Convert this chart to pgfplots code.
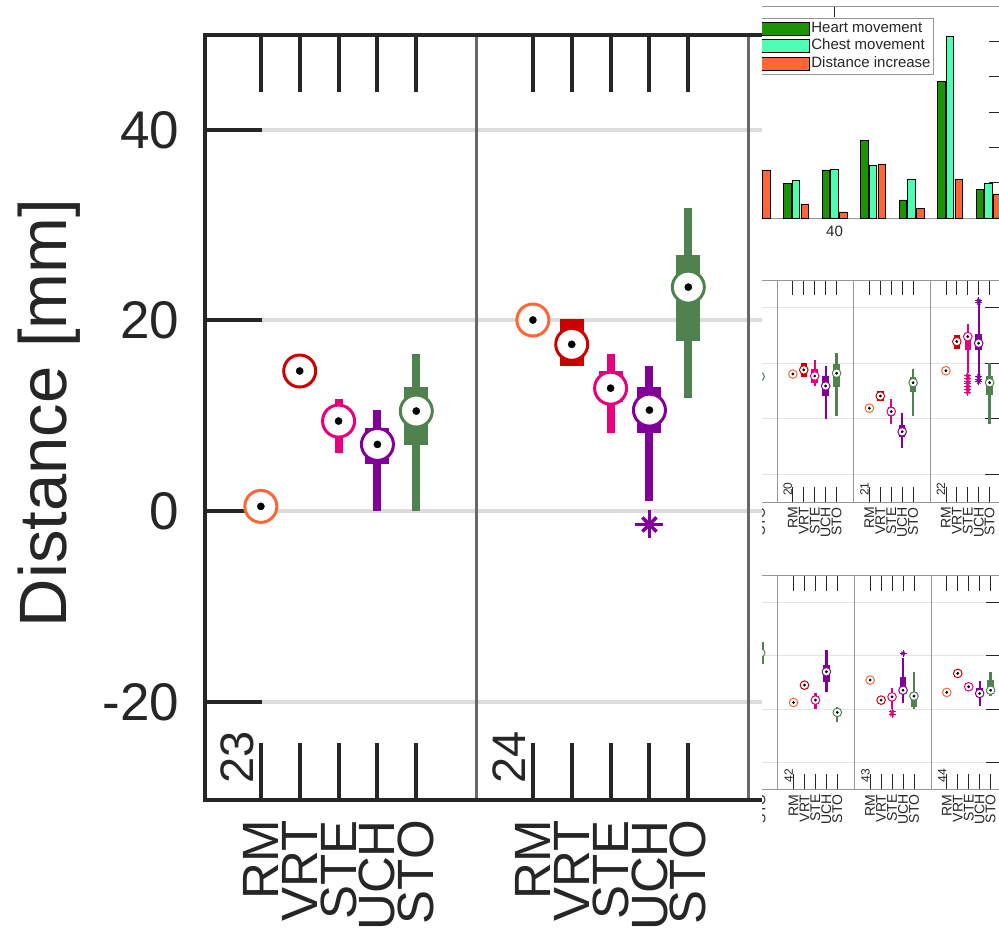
\documentclass[border=0pt]{standalone}
\usepackage{pgfplots}
\pgfplotsset{compat=1.18}
\usepackage{fontspec}
\setmainfont{Liberation Sans}
\definecolor{cRM}{RGB}{255,102,51}
\definecolor{cVRT}{RGB}{204,0,0}
\definecolor{cSTE}{RGB}{230,0,126}
\definecolor{cUCH}{RGB}{128,0,153}
\definecolor{cSTO}{RGB}{79,130,79}
\definecolor{frame}{RGB}{38,38,38}
\definecolor{sepg}{RGB}{105,105,105}
\definecolor{gridg}{RGB}{220,220,220}
\definecolor{igray}{RGB}{150,150,150}
\definecolor{bGreen}{RGB}{26,148,0}
\definecolor{bCyan}{RGB}{77,255,179}
\definecolor{bOrange}{RGB}{255,102,51}

\def\wW{8pt}\def\bW{24pt}\def\mR{16pt}\def\mL{3pt}\def\dR{3.6pt}
\def\oS{14pt}\def\oX{10pt}\def\oL{3.5pt}

% x, low whisker, q1, median, q3, high whisker, colour
\newcommand\cat[7]{%
  \addplot[#7, line width=\wW, forget plot] coordinates {(#1,#2) (#1,#6)};
  \addplot[#7, line width=\bW, forget plot] coordinates {(#1,#3) (#1,#5)};
  \addplot[only marks, mark=*, mark size=\mR, mark options={fill=white, draw=#7, line width=\mL}, forget plot] coordinates {(#1,#4)};
  \addplot[only marks, mark=*, mark size=\dR, black, forget plot] coordinates {(#1,#4)};
}
\newcommand\outl[2]{%
  \addplot[only marks, mark=+, mark size=\oS, mark options={line width=\oL}, color=#1, forget plot] coordinates {#2};
  \addplot[only marks, mark=x, mark size=\oX, mark options={line width=\oL}, color=#1, forget plot] coordinates {#2};
}
\pgfplotsset{
  mylegend/.style={legend image code/.code={\draw[##1] (0pt,-6.5pt) rectangle (48pt,6.5pt);}},
  insetrow/.style={
    anchor=south west, scale only axis,
    xmin=0, xmax=27.4, ymin=-30, ymax=50, clip=false,
    axis line style={draw=igray, line width=0.8pt},
    tick align=inside, major tick length=15pt, tick style={draw=frame, line width=0.8pt},
    xtick={1.45,2.45,3.45,4.45,5.45,8.45,9.45,10.45,11.45,12.45,15.45,16.45,17.45,18.45,19.45,22.45,23.45,24.45,25.45,26.45},
    xticklabels={RM,VRT,STE,UCH,STO,RM,VRT,STE,UCH,STO,RM,VRT,STE,UCH,STO,RM,VRT,STE,UCH,STO},
    xtick pos=both, xticklabel pos=left,
    ytick={-20,0,20,40}, yticklabels={}, ytick pos=right, yticklabel pos=left,
    ymajorgrids, grid style={line width=1.2pt, draw=gridg!80},
    xticklabel style={rotate=90, anchor=east, inner sep=0pt, font=\fontsize{14}{14}\selectfont, text=frame},
    xticklabel shift=5pt,
  }
}

\begin{document}
\begin{tikzpicture}
% ---------------- main axis ----------------
\begin{axis}[
  at={(204.5pt,134pt)}, anchor=south west,
  scale only axis, width=816.06pt, height=765pt,
  xmin=0, xmax=21, ymin=-30.3, ymax=49.95,
  clip=false,
  axis line style={line width=4pt, draw=frame},
  tick align=inside, major tick length=57pt,
  tick style={line width=4pt, draw=frame},
  xtick={1.45,2.45,3.45,4.45,5.45,8.45,9.45,10.45,11.45,12.45},
  xticklabels={RM,VRT,STE,UCH,STO,RM,VRT,STE,UCH,STO},
  xtick pos=both, xticklabel pos=left,
  ytick={-20,0,20,40}, yticklabels={-20,0,20,40},
  ytick pos=left,
  ymajorgrids, grid style={line width=4pt, draw=gridg},
  xticklabel style={rotate=90, anchor=east, inner sep=0pt, font=\fontsize{51}{51}\selectfont, text=frame},
  xticklabel shift=20pt,
  yticklabel style={anchor=east, inner sep=0pt, font=\fontsize{53}{53}\selectfont, text=frame},
  yticklabel shift=25pt,
]
\draw[sepg, line width=3pt] (axis cs:7,-30.1) -- (axis cs:7,49.75);
\draw[sepg, line width=3pt] (axis cs:14,-30.1) -- (axis cs:14,49.75);
\node[rotate=90, anchor=base west, inner sep=0pt, font=\fontsize{47}{47}\selectfont, text=frame] at (axis cs:1.27,-28.6) {23};
\node[rotate=90, anchor=base west, inner sep=0pt, font=\fontsize{47}{47}\selectfont, text=frame] at (axis cs:8.27,-28.6) {24};
% panel 23
\cat{1.45}{0.5}{0.5}{0.5}{0.5}{0.5}{cRM}
\cat{2.45}{14.7}{14.7}{14.7}{14.7}{14.7}{cVRT}
\cat{3.45}{6.1}{8.3}{9.45}{10.6}{11.8}{cSTE}
\cat{4.45}{0}{4.9}{7.0}{8.75}{10.6}{cUCH}
\cat{5.45}{0}{6.93}{10.5}{13.06}{16.45}{cSTO}
% panel 24
\cat{8.45}{20.05}{20.05}{20.05}{20.05}{20.05}{cRM}
\cat{9.45}{15.2}{15.2}{17.5}{20.2}{20.2}{cVRT}
\cat{10.45}{8.2}{11.4}{12.9}{14.7}{16.45}{cSTE}
\cat{11.45}{1.05}{8.2}{10.6}{13.06}{15.2}{cUCH}
\outl{cUCH}{(11.45,-1.4)}
\cat{12.45}{11.9}{17.8}{23.5}{26.85}{31.85}{cSTO}
\end{axis}
\node[rotate=90, anchor=base, inner sep=0pt, font=\fontsize{67}{67}\selectfont, text=frame] at (66pt,521pt) {Distance [mm]};

% ---------------- inset (cut-out of a larger figure) ----------------
\fill[white] (762pt,-5pt) rectangle (1040pt,940pt);
\begin{scope}
\clip (762pt,0pt) rectangle (999pt,934pt);
\def\wW{2.3pt}\def\bW{6.5pt}\def\mR{4.3pt}\def\mL{1pt}\def\dR{1.2pt}
\def\oS{3.5pt}\def\oX{2.5pt}\def\oL{0.9pt}
% bar chart
\begin{axis}[
  at={(719pt,716pt)}, anchor=south west, scale only axis,
  width=281.05pt, height=212pt,
  xmin=37, xmax=44.3, ymin=0, ymax=6, clip=false,
  ybar=1.2pt, bar width=7.5pt,
  axis line style={draw=igray, line width=0.8pt},
  tick align=inside, major tick length=11pt, tick style={draw=frame, line width=0.8pt},
  xtick={30,40,50}, xticklabels={30,40,50}, xtick pos=both, xticklabel pos=left,
  ytick={1,2,3,4,5}, yticklabels={}, ytick pos=right, yticklabel pos=left,
  xticklabel style={font=\fontsize{15}{15}\selectfont, text=frame, inner sep=0pt},
  xticklabel shift=8pt,
  legend style={at={(axis cs:42.584,5.66)}, anchor=north east, draw=igray, line width=0.8pt,
    font=\fontsize{15}{15}\selectfont, text=frame, inner sep=1.5pt, row sep=0pt,
    nodes={inner sep=1.5pt, text height=11pt, text depth=3.5pt}},
  legend cell align=left,
]
\addplot[fill=bGreen, draw=black, line width=0.6pt, mylegend] coordinates {(39,0.99)(40,1.36)(41,2.2)(42,0.51)(43,3.87)(44,0.82)};
\addplot[fill=bCyan, draw=black, line width=0.6pt, mylegend] coordinates {(39,1.07)(40,1.38)(41,1.50)(42,1.10)(43,5.14)(44,0.99)};
\addplot[fill=bOrange, draw=black, line width=0.6pt, mylegend] coordinates {(38,1.36)(39,0.40)(40,0.17)(41,1.53)(42,0.28)(43,1.10)(44,0.68)};
\legend{Heart movement, Chest movement, Distance increase}
\end{axis}
% middle row: panels 19-22
\begin{axis}[insetrow, at={(700.5pt,432pt)}, width=299.5pt, height=222pt]
\draw[igray, line width=0.8pt] (axis cs:7,-30) -- (axis cs:7,50);
\draw[igray, line width=0.8pt] (axis cs:14,-30) -- (axis cs:14,50);
\draw[igray, line width=0.8pt] (axis cs:21,-30) -- (axis cs:21,50);
\node[rotate=90, anchor=base west, inner sep=0pt, font=\fontsize{12}{12}\selectfont, text=frame] at (axis cs:8.37,-27.8) {20};
\node[rotate=90, anchor=base west, inner sep=0pt, font=\fontsize{12}{12}\selectfont, text=frame] at (axis cs:15.37,-27.8) {21};
\node[rotate=90, anchor=base west, inner sep=0pt, font=\fontsize{12}{12}\selectfont, text=frame] at (axis cs:22.37,-27.8) {22};
\cat{5.45}{15.2}{15.2}{15.2}{15.2}{15.2}{cSTO}
\cat{8.45}{16.1}{16.1}{16.1}{16.1}{16.1}{cRM}
\cat{9.45}{15.2}{15.2}{17.6}{20.2}{20.2}{cVRT}
\cat{10.45}{11.8}{13.0}{15.4}{17.8}{21.2}{cSTE}
\cat{11.45}{-0.1}{8.2}{11.8}{15.4}{19.0}{cUCH}
\cat{12.45}{1.1}{11.6}{16.4}{19.7}{23.6}{cSTO}
\cat{15.45}{3.8}{3.8}{3.8}{3.8}{3.8}{cRM}
\cat{16.45}{6.3}{6.3}{8.2}{10.1}{10.1}{cVRT}
\cat{17.45}{-2.0}{1.0}{2.6}{4.1}{7.0}{cSTE}
\cat{18.45}{-10.4}{-6.5}{-4.7}{-2.3}{2.2}{cUCH}
\cat{19.45}{1.1}{9.5}{13.0}{15.2}{17.8}{cSTO}
\cat{22.45}{17.3}{17.3}{17.3}{17.3}{17.3}{cRM}
\cat{23.45}{25.0}{25.0}{27.8}{30.2}{30.2}{cVRT}
\cat{24.45}{16.4}{24.8}{29.6}{30.8}{34.1}{cSTE}
\outl{cSTE}{(24.45,15.6)(24.45,14.6)(24.45,13.6)(24.45,12.6)(24.45,11.6)(24.45,10.6)(24.45,9.6)}
\cat{25.45}{15.8}{24.8}{27.2}{30.5}{41.6}{cUCH}
\outl{cUCH}{(25.45,42.6)(25.45,41.8)(25.45,15.3)(25.45,14.3)(25.45,13.3)}
\cat{26.45}{-2.0}{8.6}{13.0}{15.4}{20.0}{cSTO}
\end{axis}
% bottom row: panels 41-44
\begin{axis}[insetrow, at={(701pt,144.7pt)}, width=300pt, height=213.6pt]
\draw[igray, line width=0.8pt] (axis cs:7,-30) -- (axis cs:7,50);
\draw[igray, line width=0.8pt] (axis cs:14,-30) -- (axis cs:14,50);
\draw[igray, line width=0.8pt] (axis cs:21,-30) -- (axis cs:21,50);
\node[rotate=90, anchor=base west, inner sep=0pt, font=\fontsize{12}{12}\selectfont, text=frame] at (axis cs:8.4,-27.4) {42};
\node[rotate=90, anchor=base west, inner sep=0pt, font=\fontsize{12}{12}\selectfont, text=frame] at (axis cs:15.4,-27.4) {43};
\node[rotate=90, anchor=base west, inner sep=0pt, font=\fontsize{12}{12}\selectfont, text=frame] at (axis cs:22.4,-27.4) {44};
\cat{5.45}{16.5}{17.0}{21.1}{25.0}{25.9}{cSTO}
\cat{8.45}{2.5}{2.5}{2.5}{2.5}{2.5}{cRM}
\cat{9.45}{9.0}{9.0}{9.0}{9.0}{9.0}{cVRT}
\cat{10.45}{0.0}{2.0}{3.4}{4.8}{5.9}{cSTE}
\cat{11.45}{6.3}{10.3}{14.0}{16.4}{22.1}{cUCH}
\cat{12.45}{-4.8}{-1.2}{-1.2}{-1.2}{0.9}{cSTO}
\cat{15.45}{10.9}{10.9}{10.9}{10.9}{10.9}{cRM}
\cat{16.45}{3.4}{3.4}{3.4}{3.4}{3.4}{cVRT}
\cat{17.45}{0.0}{3.0}{4.6}{6.0}{8.0}{cSTE}
\outl{cSTE}{(17.45,-1.0)(17.45,-2.0)}
\cat{18.45}{2.4}{5.9}{7.1}{11.9}{19.0}{cUCH}
\outl{cUCH}{(18.45,20.9)}
\cat{19.45}{-0.1}{1.0}{4.9}{6.6}{13.8}{cSTO}
\cat{22.45}{6.3}{6.3}{6.3}{6.3}{6.3}{cRM}
\cat{23.45}{13.4}{13.4}{13.4}{13.4}{13.4}{cVRT}
\cat{24.45}{7.2}{7.2}{8.4}{9.6}{9.6}{cSTE}
\cat{25.45}{1.1}{4.4}{5.9}{7.9}{10.5}{cUCH}
\cat{26.45}{4.9}{7.8}{7.1}{10.9}{13.8}{cSTO}
\end{axis}
\end{scope}
\pgfresetboundingbox
\path[use as bounding box] (0pt,0pt) rectangle (999pt,934pt);
\end{tikzpicture}
\end{document}
